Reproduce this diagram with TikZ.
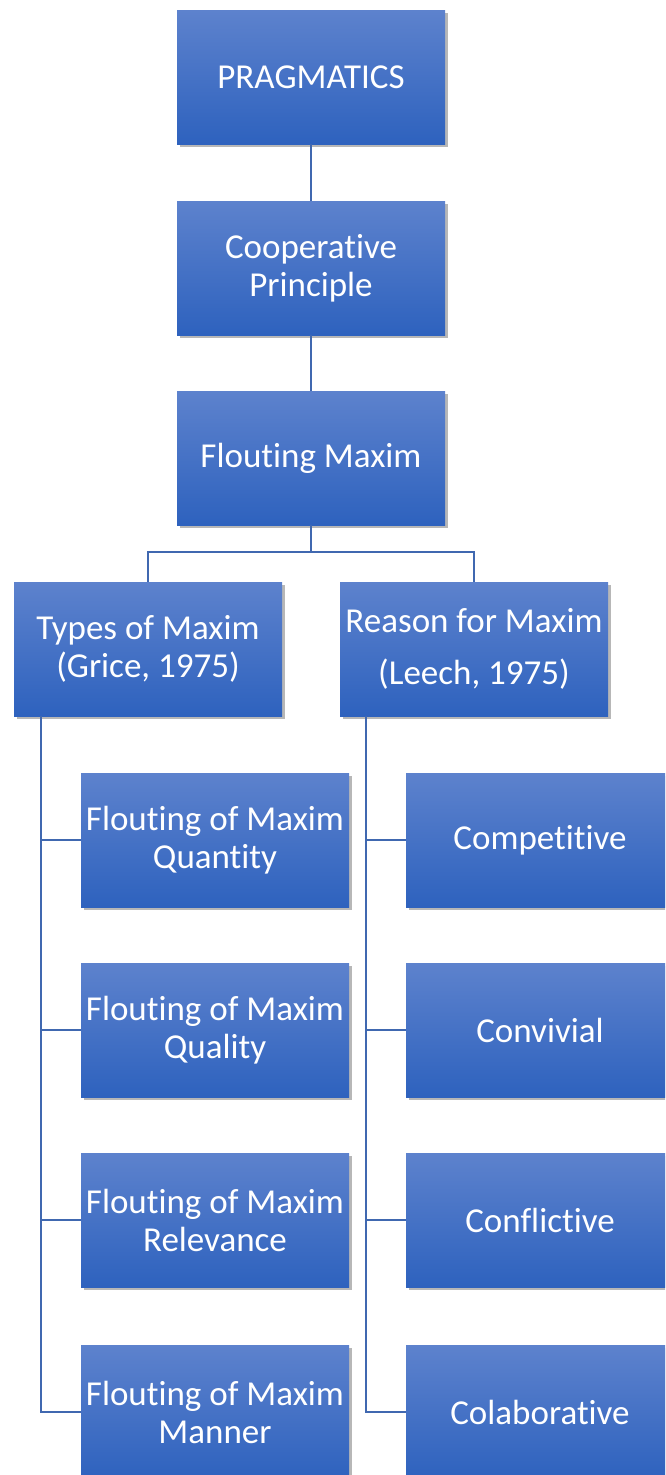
\documentclass[tikz,border=0pt]{standalone}
\usepackage{fontspec}
\setmainfont{Carlito}[Ligatures=NoCommon]
\usetikzlibrary{positioning, calc, shadows}
\definecolor{boxtop}{RGB}{93,130,205}
\definecolor{boxbot}{RGB}{46,98,190}
\definecolor{linkblue}{RGB}{64,104,176}
\begin{document}
\begin{tikzpicture}[x=1pt, y=-1pt,
  mapbox/.style={rectangle, minimum width=268pt, minimum height=134pt, inner sep=0pt,
    top color=boxtop, bottom color=boxbot, text=white, align=center,
    font=\fontsize{35}{38}\selectfont,
    drop shadow={shadow xshift=3pt, shadow yshift=-3pt, opacity=0.4, fill=black!70}},
  link/.style={draw=linkblue, line width=1.6pt}]
  \useasboundingbox (0,0) rectangle (665,1475);
  \clip (0,0) rectangle (665,1475);
  % main chain
  \node[mapbox] (prag) at (311,77) {PRAGMATICS};
  \node[mapbox] (coop) at (311,268) {Cooperative\\Principle};
  \node[mapbox] (flout) at (311,458) {Flouting Maxim};
  \node[mapbox] (types) at (148,649) {Types of Maxim\\(Grice, 1975)};
  \node[mapbox] (reason) at (474,649) {Reason for Maxim\\[14pt](Leech, 1975)};
  % types of maxim
  \node[mapbox] (qty) at (215,840) {Flouting of Maxim\\Quantity};
  \node[mapbox] (qly) at (215,1030) {Flouting of Maxim\\Quality};
  \node[mapbox] (rel) at (215,1220) {Flouting of Maxim\\Relevance};
  \node[mapbox] (man) at (215,1412) {Flouting of Maxim\\Manner};
  % reasons
  \node[mapbox] (comp) at (540,840) {Competitive};
  \node[mapbox] (conv) at (540,1030) {Convivial};
  \node[mapbox] (conf) at (540,1220) {Conflictive};
  \node[mapbox] (colab) at (540,1412) {Colaborative};
  % connectors
  \coordinate (split) at (311,552);
  \coordinate (ltrunk) at (41,716);
  \coordinate (rtrunk) at (366,716);
  \begin{scope}[on background layer/.try]
  \draw[link] (prag) -- (coop);
  \draw[link] (coop) -- (flout);
  \draw[link] (flout) -- (split) -| (types);
  \draw[link] (split) -| (reason);
  \foreach \kid in {qty, qly, rel, man}
    \draw[link] (ltrunk) |- (\kid.west);
  \foreach \kid in {comp, conv, conf, colab}
    \draw[link] (rtrunk) |- (\kid.west);
  \end{scope}
\end{tikzpicture}
\end{document}
